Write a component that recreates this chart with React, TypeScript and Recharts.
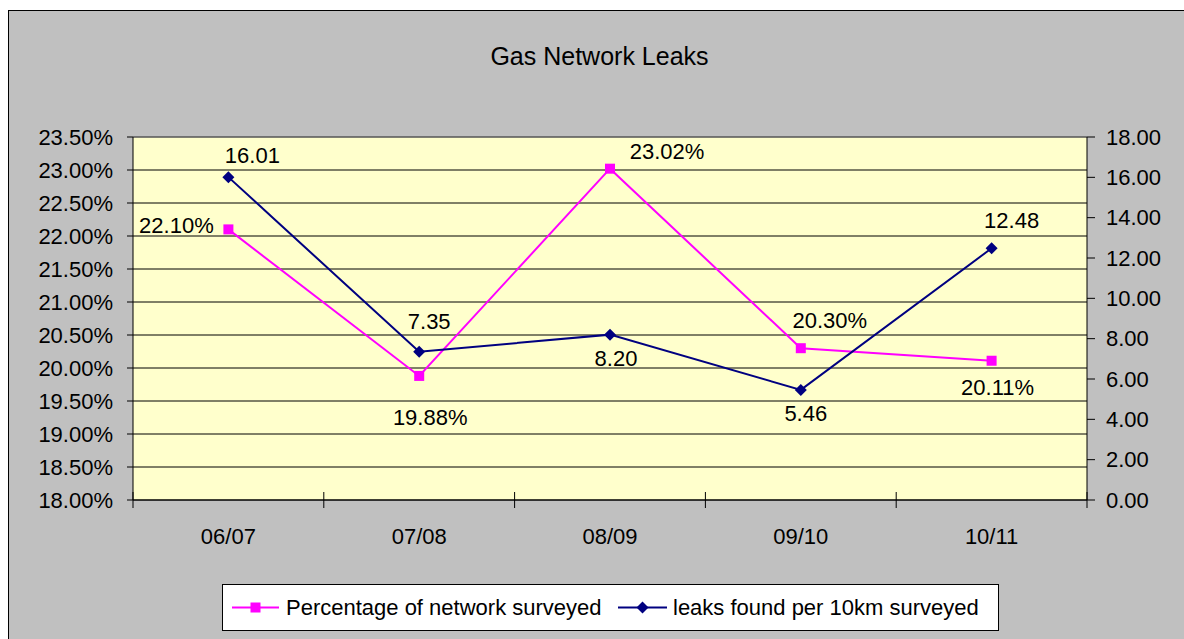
import React from 'react';
import {
  LineChart,
  Line,
  XAxis,
  YAxis,
  CartesianGrid,
  ReferenceLine,
  LabelList,
} from 'recharts';

// chart values
const seasons = ['06/07', '07/08', '08/09', '09/10', '10/11'];
const pctSurveyed = [0.221, 0.1988, 0.2302, 0.203, 0.2011];
const leaksPer10km = [16.01, 7.35, 8.2, 5.46, 12.48];
const pctTicks = [0.18, 0.185, 0.19, 0.195, 0.2, 0.205, 0.21, 0.215, 0.22, 0.225, 0.23, 0.235];
const leakTicks = [0, 2, 4, 6, 8, 10, 12, 14, 16, 18];

const TITLE = 'Gas Network Leaks';
const PCT_NAME = 'Percentage of network surveyed';
const LEAK_NAME = 'leaks found per 10km surveyed';

// layout
const W = 1175;
const H = 628;
const LEFT_AXIS_W = 124;
const RIGHT_AXIS_W = 97;
const PLOT_TOP = 126;
const PLOT_BOTTOM = 489;
const FONT = '"Liberation Sans", Arial, sans-serif';
const PINK = '#ff00ff';
const NAVY = '#000080';

// where each data label sits, relative to its point (text centre)
const pctLabelPos = [[-52, -4], [11, 42], [57, -17], [29, -28], [6, 27]];
const leakLabelPos = [[24, -22], [10, -30], [6, 24], [5, 24], [20, -28]];

const data = seasons.map((s, i) => ({
  season: s,
  pct: pctSurveyed[i],
  leaks: leaksPer10km[i],
}));

const bandW = (W - LEFT_AXIS_W - RIGHT_AXIS_W) / seasons.length;

const fmtPct = (v: number) => (v * 100).toFixed(2) + '%';
const fmtNum = (v: number) => Number(v).toFixed(2);

const SquareDot = (props: any) => {
  const { cx, cy, index } = props;
  if (cx == null || cy == null) return null;
  return <rect key={'sq' + index} x={cx - 5} y={cy - 5} width={10} height={10} fill={PINK} />;
};

const DiamondDot = (props: any) => {
  const { cx, cy, index } = props;
  if (cx == null || cy == null) return null;
  return (
    <path
      key={'dm' + index}
      d={`M${cx} ${cy - 6}L${cx + 6} ${cy}L${cx} ${cy + 6}L${cx - 6} ${cy}Z`}
      fill={NAVY}
    />
  );
};

const makeLabel = (pos: number[][], fmt: (v: number) => string) => (props: any) => {
  const { x, y, index, value } = props;
  if (x == null || y == null) return null;
  const [dx, dy] = pos[index] || [0, -20];
  return (
    <text
      key={'lb' + index}
      x={x + dx}
      y={y + dy}
      textAnchor="middle"
      dominantBaseline="central"
      fontSize={22}
      fontFamily={FONT}
      fill="#000"
    >
      {fmt(value)}
    </text>
  );
};

const SeasonTick = (props: any) => {
  const { x, y, payload, index } = props;
  return (
    <g>
      <line x1={x - bandW / 2} x2={x - bandW / 2} y1={y - 8} y2={y + 8} stroke="#000" />
      {index === seasons.length - 1 && (
        <line x1={x + bandW / 2} x2={x + bandW / 2} y1={y - 8} y2={y + 8} stroke="#000" />
      )}
      <text x={x} y={y + 44} textAnchor="middle" fontSize={22} fontFamily={FONT} fill="#000">
        {payload.value}
      </text>
    </g>
  );
};

export default function App() {
  return (
    <div
      style={{
        position: 'fixed',
        left: 8,
        top: 10,
        width: 1176,
        height: 629,
        borderLeft: '1px solid #000',
        borderTop: '1px solid #000',
        background: '#c0c0c0',
        overflow: 'hidden',
      }}
    >
      <div
        style={{
          position: 'absolute',
          left: 0,
          top: 33,
          width: W + 6,
          textAlign: 'center',
          fontFamily: FONT,
          fontSize: 25,
          lineHeight: '25px',
          color: '#000',
        }}
      >
        {TITLE}
      </div>

      <LineChart
        width={W}
        height={H}
        data={data}
        margin={{ top: PLOT_TOP, right: 0, bottom: H - PLOT_BOTTOM - 60, left: 0 }}
      >
        <CartesianGrid
          yAxisId="left"
          vertical={false}
          horizontal
          fill="#ffffcc"
          fillOpacity={1}
          stroke="#000"
        />
        <XAxis
          dataKey="season"
          scale="band"
          height={60}
          interval={0}
          tickLine={false}
          tickSize={0}
          tickMargin={0}
          axisLine={{ stroke: '#000' }}
          tick={<SeasonTick />}
        />
        <YAxis
          yAxisId="left"
          width={LEFT_AXIS_W}
          domain={[0.18, 0.235]}
          ticks={pctTicks}
          interval={0}
          tickFormatter={fmtPct}
          tickSize={6}
          tickMargin={14}
          axisLine={{ stroke: '#000' }}
          tickLine={{ stroke: '#000' }}
          tick={{ fill: '#000', fontSize: 22, fontFamily: FONT }}
        />
        <YAxis
          yAxisId="right"
          orientation="right"
          width={RIGHT_AXIS_W}
          domain={[0, 18]}
          ticks={leakTicks}
          interval={0}
          tickFormatter={fmtNum}
          tickSize={8}
          tickMargin={11}
          axisLine={{ stroke: '#000' }}
          tickLine={{ stroke: '#000' }}
          tick={{ fill: '#000', fontSize: 22, fontFamily: FONT, textAnchor: 'start' }}
        />
        <ReferenceLine yAxisId="left" y={0.235} stroke="#808080" />
        <Line
          yAxisId="left"
          type="linear"
          dataKey="pct"
          name={PCT_NAME}
          stroke={PINK}
          strokeWidth={2}
          dot={SquareDot}
          activeDot={false}
          isAnimationActive={false}
        >
          <LabelList dataKey="pct" content={makeLabel(pctLabelPos, fmtPct)} />
        </Line>
        <Line
          yAxisId="right"
          type="linear"
          dataKey="leaks"
          name={LEAK_NAME}
          stroke={NAVY}
          strokeWidth={2}
          dot={DiamondDot}
          activeDot={false}
          isAnimationActive={false}
        >
          <LabelList dataKey="leaks" content={makeLabel(leakLabelPos, fmtNum)} />
        </Line>
      </LineChart>

      <svg
        width={777}
        height={47}
        style={{ position: 'absolute', left: 213, top: 573 }}
        fontFamily={FONT}
      >
        <rect x={0.5} y={0.5} width={776} height={46} fill="#fff" stroke="#000" />
        <line x1={10} x2={57} y1={23.5} y2={23.5} stroke={PINK} strokeWidth={2} />
        <rect x={28.5} y={18.5} width={10} height={10} fill={PINK} />
        <text x={64} y={23} dominantBaseline="central" fontSize={22} fill="#000">
          {PCT_NAME}
        </text>
        <line x1={396} x2={445} y1={23.5} y2={23.5} stroke={NAVY} strokeWidth={2} />
        <path d="M420.5 17.5L426.5 23.5L420.5 29.5L414.5 23.5Z" fill={NAVY} />
        <text x={451} y={23} dominantBaseline="central" fontSize={22} fill="#000">
          {LEAK_NAME}
        </text>
      </svg>
    </div>
  );
}
